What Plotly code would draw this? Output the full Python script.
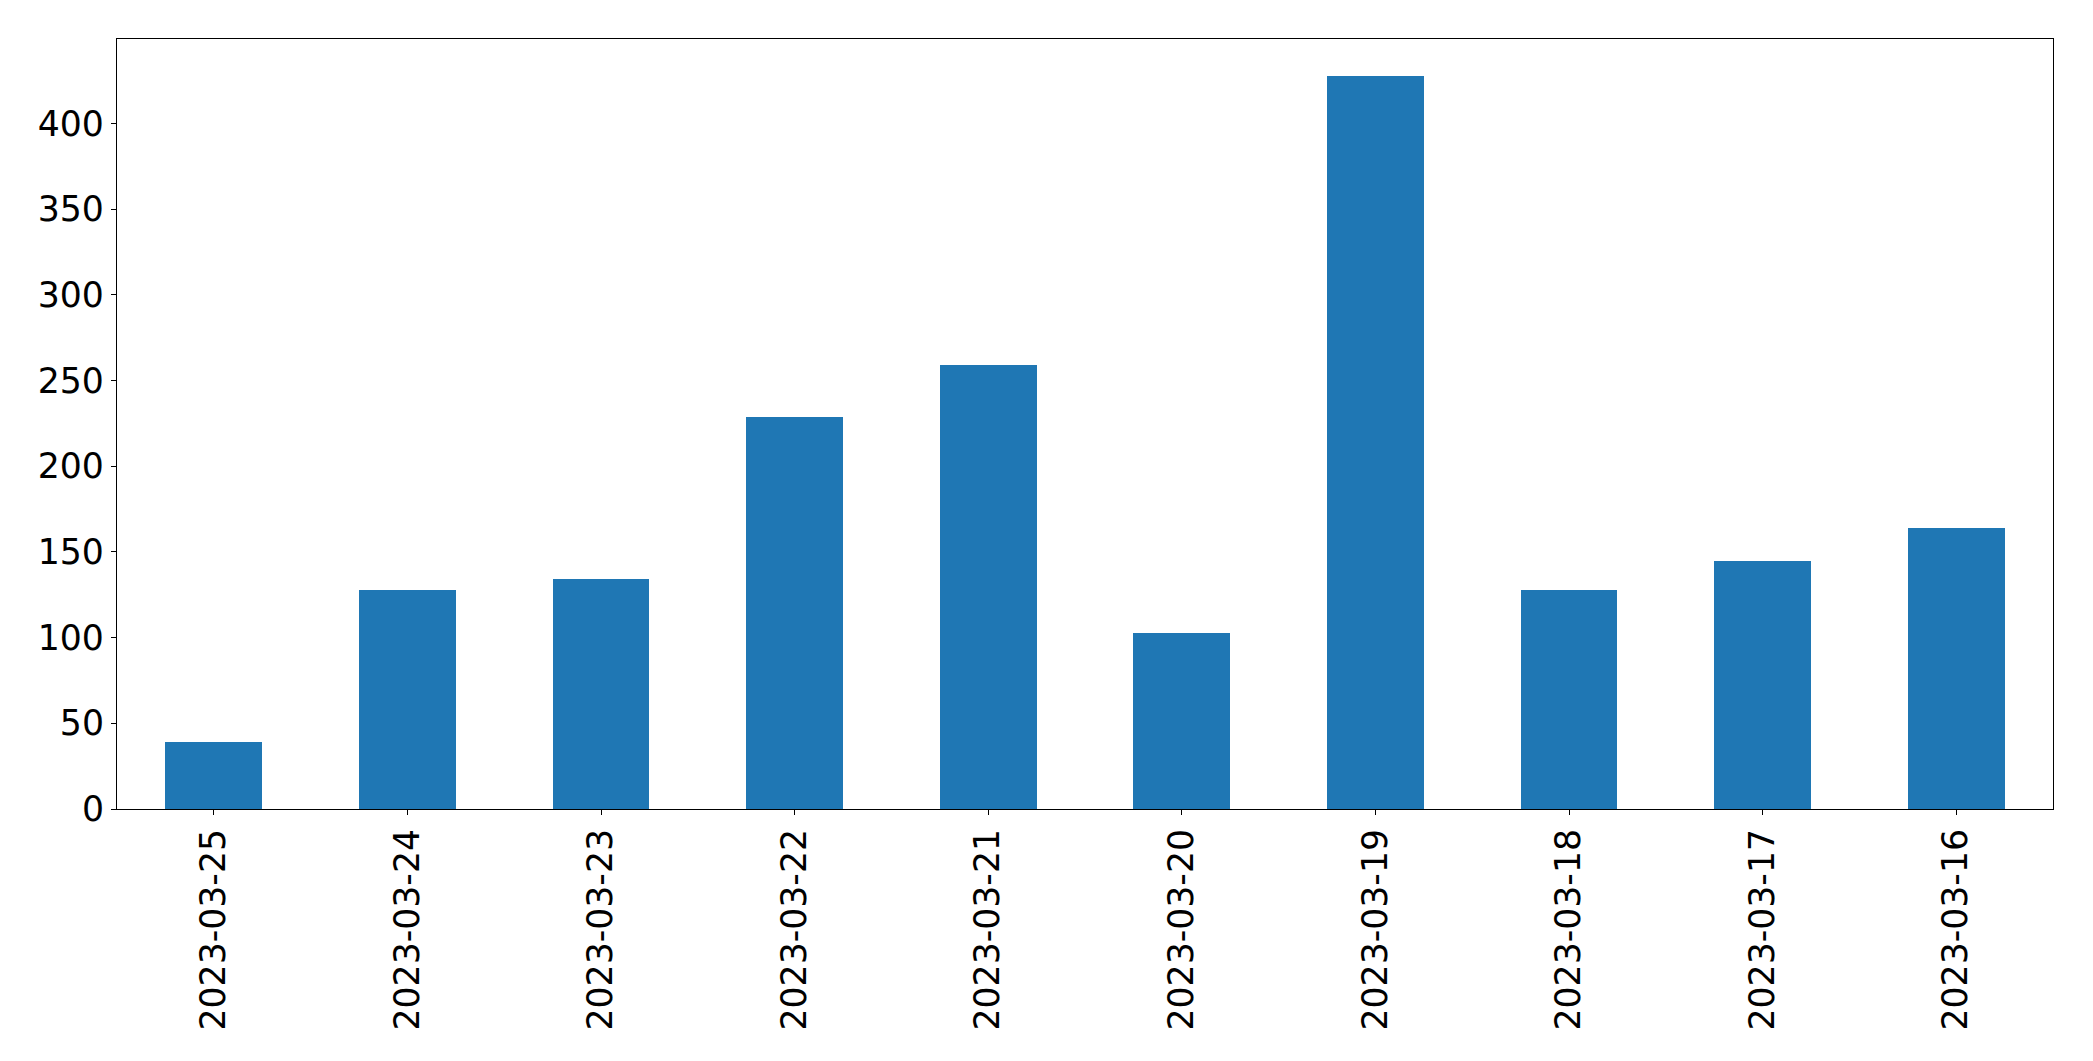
import plotly.graph_objects as go

dates = ["2023-03-25", "2023-03-24", "2023-03-23", "2023-03-22", "2023-03-21",
         "2023-03-20", "2023-03-19", "2023-03-18", "2023-03-17", "2023-03-16"]
counts = [39, 128, 134, 229, 259, 103, 428, 128, 145, 164]
y_ticks = [0, 50, 100, 150, 200, 250, 300, 350, 400]

fig = go.Figure(go.Bar(x=dates, y=counts, width=0.5, marker=dict(color="#1f77b4", line=dict(width=0))))

font = dict(family="DejaVu Sans", size=34.7, color="black")
fig.update_layout(
    width=2085, height=1053,
    margin=dict(l=108.5, r=39.5, t=31.3, b=251.7, pad=0),
    paper_bgcolor="white", plot_bgcolor="white",
    showlegend=False, bargap=0,
    font=font,
)
fig.update_xaxes(
    type="category", range=[-0.5, 9.5],
    showline=True, mirror=True, linecolor="black", linewidth=1.2,
    ticks="outside", ticklen=5, tickwidth=1.2, tickcolor="black",
    tickangle=-90, tickfont=font, showgrid=False, zeroline=False,
)
fig.update_yaxes(
    range=[0, 449.4], tickvals=y_ticks,
    showline=True, mirror=True, linecolor="black", linewidth=1.2,
    ticks="outside", ticklen=5, tickwidth=1.2, tickcolor="black",
    tickfont=font, showgrid=False, zeroline=False,
)
fig.write_html("out.html")
